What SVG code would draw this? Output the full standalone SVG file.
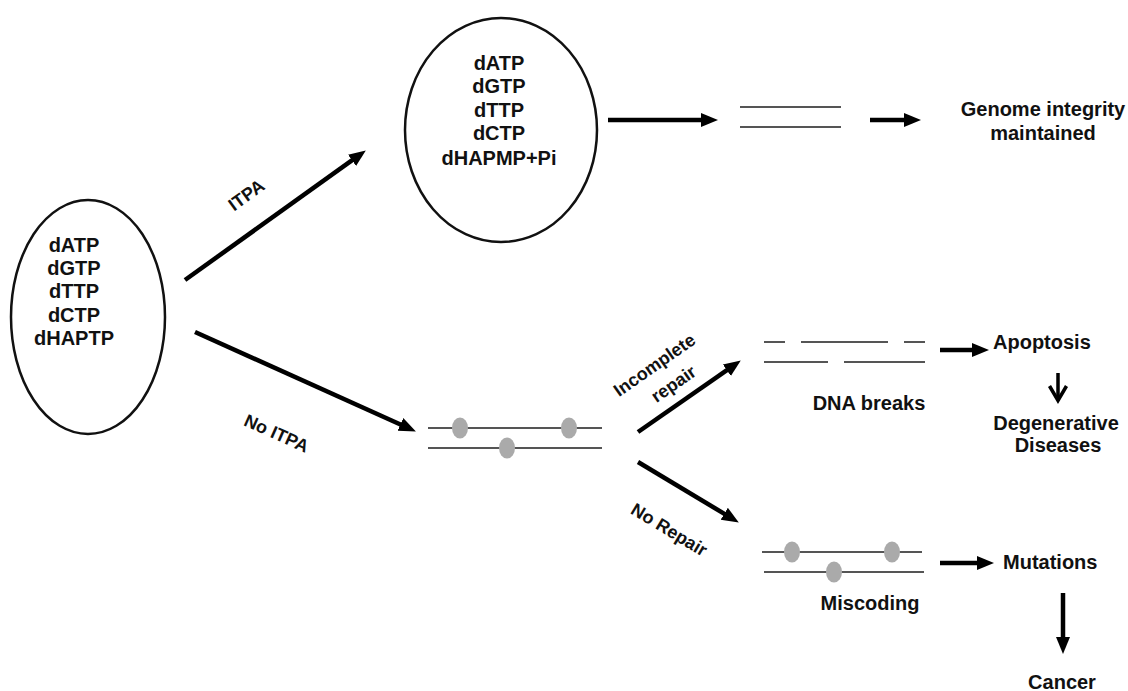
<svg xmlns="http://www.w3.org/2000/svg" width="1128" height="691" viewBox="0 0 1128 691">
<defs>
<style>
.t{font-family:"Liberation Sans",Arial,sans-serif;font-weight:bold;font-size:20px;fill:#111;text-anchor:middle}
.lb{font-family:"Liberation Sans",Arial,sans-serif;font-weight:bold;font-size:18px;fill:#111;text-anchor:middle}
.ell{fill:none;stroke:#111;stroke-width:2.5}
.arr{stroke:#000;stroke-width:4.5;fill:none;marker-end:url(#ah)}
.chev{stroke:#000;stroke-width:3.5;fill:none;stroke-linejoin:miter}
.dna{stroke:#555;stroke-width:2;fill:none}
.dot{fill:#aaa}
</style>
<marker id="ah" markerUnits="userSpaceOnUse" markerWidth="18" markerHeight="16" refX="8" refY="7" orient="auto" viewBox="0 0 18 14">
<path d="M0,0 L17,7 L0,14 z" fill="#000"/>
</marker>
</defs>
<rect width="1128" height="691" fill="#fff"/>

<g id="node-pool">
<ellipse class="ell" cx="88" cy="317" rx="77" ry="117"/>
<text class="t" x="74" y="252">dATP</text>
<text class="t" x="74" y="275">dGTP</text>
<text class="t" x="74" y="298">dTTP</text>
<text class="t" x="74" y="322">dCTP</text>
<text class="t" x="74" y="345">dHAPTP</text>
</g>

<g id="node-itpa-pool">
<ellipse class="ell" cx="501" cy="130" rx="96" ry="112"/>
<text class="t" x="499" y="70">dATP</text>
<text class="t" x="499" y="93">dGTP</text>
<text class="t" x="499" y="117">dTTP</text>
<text class="t" x="499" y="140">dCTP</text>
<text class="t" x="499" y="165">dHAPMP+Pi</text>
</g>

<g id="node-intact-dna">
<line class="dna" x1="740" y1="107" x2="841" y2="107"/>
<line class="dna" x1="740" y1="127" x2="841" y2="127"/>
</g>

<g id="node-genome">
<text class="t" x="1043" y="116">Genome integrity</text>
<text class="t" x="1043" y="140">maintained</text>
</g>

<g id="node-damaged-dna">
<line class="dna" x1="428" y1="428" x2="602" y2="428" stroke="#333"/>
<line class="dna" x1="428" y1="448" x2="602" y2="448" stroke="#777"/>
<ellipse class="dot" cx="460" cy="428" rx="8" ry="10.5"/>
<ellipse class="dot" cx="569" cy="428" rx="8" ry="10.5"/>
<ellipse class="dot" cx="507" cy="448" rx="8" ry="10.5"/>
</g>

<g id="node-breaks">
<line class="dna" x1="764" y1="342" x2="785" y2="342"/>
<line class="dna" x1="801" y1="342" x2="888" y2="342"/>
<line class="dna" x1="904" y1="342" x2="925" y2="342"/>
<line class="dna" x1="764" y1="362" x2="828" y2="362"/>
<line class="dna" x1="844" y1="362" x2="925" y2="362"/>
<text class="t" x="869" y="410">DNA breaks</text>
</g>

<g id="node-apoptosis">
<text class="t" x="993" y="349" style="text-anchor:start">Apoptosis</text>
</g>

<g id="node-degenerative">
<text class="t" x="1056" y="430">Degenerative</text>
<text class="t" x="1058" y="452">Diseases</text>
</g>

<g id="node-miscoding">
<line class="dna" x1="762" y1="552" x2="922" y2="552" stroke="#333"/>
<line class="dna" x1="764" y1="572" x2="924" y2="572" stroke="#777"/>
<ellipse class="dot" cx="792" cy="552" rx="8" ry="10.5"/>
<ellipse class="dot" cx="892" cy="552" rx="8" ry="10.5"/>
<ellipse class="dot" cx="834" cy="572" rx="8" ry="10.5"/>
<text class="t" x="870" y="610">Miscoding</text>
</g>

<g id="node-mutations">
<text class="t" x="1003" y="569" style="text-anchor:start">Mutations</text>
</g>

<g id="node-cancer">
<text class="t" x="1062" y="689">Cancer</text>
</g>

<g id="connectors">
<line class="arr" x1="185" y1="280" x2="358.5" y2="155.7"/>
<line class="arr" x1="195" y1="332" x2="407.7" y2="427.7"/>
<line class="arr" x1="608" y1="120" x2="709" y2="120"/>
<line class="arr" x1="870" y1="120" x2="912" y2="120"/>
<line class="arr" x1="638" y1="432" x2="733.4" y2="365.6"/>
<line class="arr" x1="638" y1="462" x2="731.1" y2="517.9"/>
<line class="arr" x1="940" y1="350" x2="980" y2="350"/>
<line class="chev" x1="1058" y1="373" x2="1058" y2="400"/>
<polyline class="chev" points="1049.5,386 1058,400.5 1066.5,386"/>
<line class="arr" x1="940" y1="563" x2="985" y2="563"/>
<line class="arr" x1="1063" y1="593" x2="1063" y2="645"/>
<text class="lb" transform="translate(250,200) rotate(-36)">ITPA</text>
<text class="lb" transform="translate(274,439) rotate(24)">No ITPA</text>
<text class="lb" transform="translate(658,370) rotate(-35)">Incomplete</text>
<text class="lb" transform="translate(677,389) rotate(-35)">repair</text>
<text class="lb" transform="translate(666,535) rotate(31)">No Repair</text>
</g>
</svg>
